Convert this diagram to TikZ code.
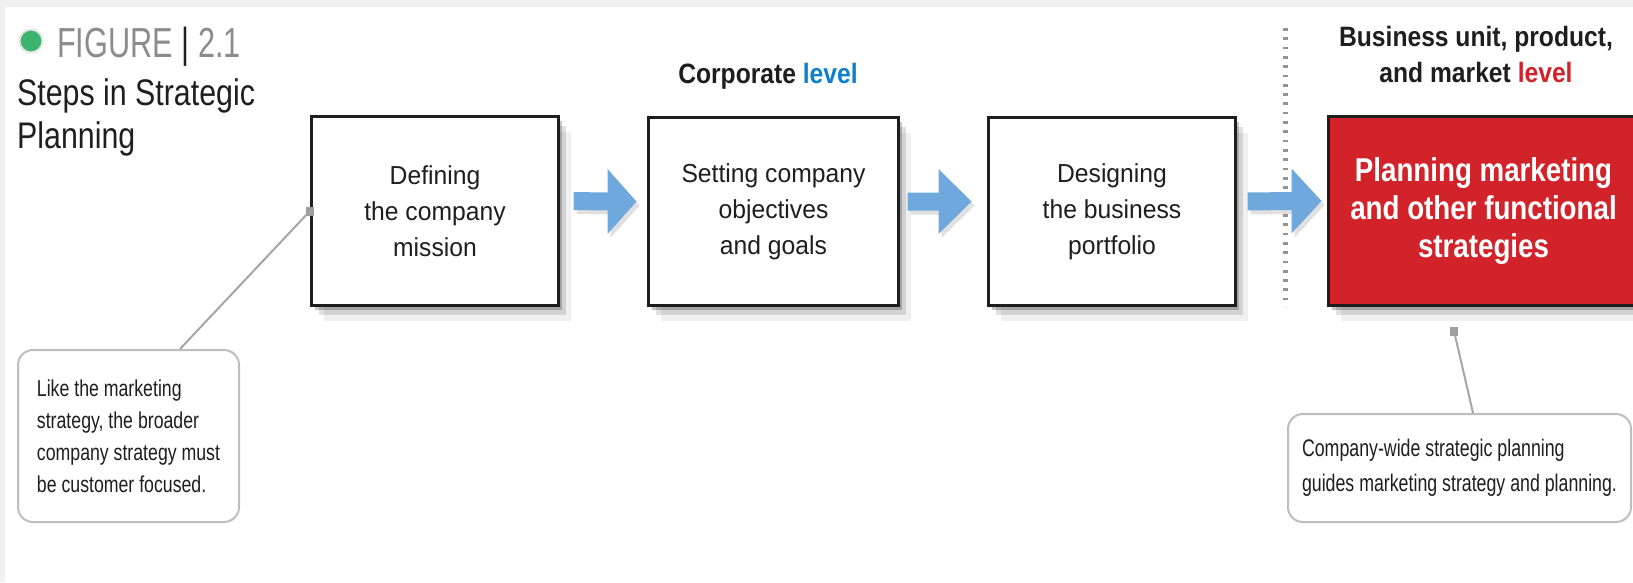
\documentclass[tikz,border=0pt]{standalone}
\usepackage{fontspec}
\setmainfont{Liberation Sans}
\newfontfamily\boxf[FakeStretch=0.95]{Liberation Sans}
\newfontfamily\headf[FakeStretch=0.88]{Liberation Sans}
\newfontfamily\redf[FakeStretch=0.84]{Liberation Sans}
\newfontfamily\notef[FakeStretch=0.77]{Liberation Sans}
\newfontfamily\notebf[FakeStretch=0.74]{Liberation Sans}
\newfontfamily\figf[FakeStretch=0.73]{Liberation Sans}
\newfontfamily\titf[FakeStretch=0.82]{Liberation Sans}
\usetikzlibrary{calc,shadows}
\definecolor{arrowblue}{RGB}{111,168,220}
\definecolor{stratred}{RGB}{210,35,42}
\definecolor{levelblue}{RGB}{12,128,204}
\definecolor{dotgreen}{RGB}{60,180,110}
\definecolor{figgray}{RGB}{140,140,140}
\definecolor{framegray}{RGB}{240,240,240}
\definecolor{callgray}{RGB}{190,190,190}
\definecolor{ink}{RGB}{30,30,30}
\tikzset{
  boxshadow/.style={
    drop shadow={shadow xshift=3pt, shadow yshift=-4pt, fill=black, opacity=.22},
    drop shadow={shadow xshift=7pt, shadow yshift=-9pt, fill=black, opacity=.12},
    drop shadow={shadow xshift=12pt, shadow yshift=-15pt, fill=black, opacity=.06}},
  stepbox/.style={draw=ink, line width=3pt, fill=white, align=center, text=ink,
    font=\boxf\fontsize{26}{36}\selectfont, inner sep=0pt, boxshadow},
  redbox/.style={stepbox, fill=stratred, text=white,
    font=\redf\bfseries\fontsize{33}{38}\selectfont},
  calloutbox/.style={draw=callgray, line width=2pt, rounded corners=15pt, fill=white,
    align=left, text=ink, inner sep=0pt},
  headtext/.style={font=\headf\bfseries\fontsize{28}{36}\selectfont, text=ink, align=center, inner sep=0pt},
  figtext/.style={font=\figf\fontsize{42}{48}\selectfont, text=figgray, inner sep=0pt},
  titletext/.style={font=\titf\fontsize{37}{43}\selectfont, text=ink, align=left, inner sep=0pt},
  leader/.style={draw=gray!70, line width=2pt},
  marker/.style={fill=gray!75, minimum width=8pt, minimum height=9pt, inner sep=0pt},
  sepline/.style={draw=gray!85, line width=5pt, dash pattern=on 2.7pt off 6.6pt},
  arrowshade/.style={fill=black, opacity=.12, transform canvas={shift={(3pt,-4pt)}}}
}
\newcommand\blockarrow[3]{%
  \fill[arrowshade] ($(#1)+(0,-9)$) -- ($(#2)+(-#3,-9)$) -- ($(#2)+(-#3,-32.5)$) -- (#2) -- ($(#2)+(-#3,32.5)$) -- ($(#2)+(-#3,9)$) -- ($(#1)+(0,9)$) -- cycle;
  \fill[arrowblue] ($(#1)+(0,-9)$) -- ($(#2)+(-#3,-9)$) -- ($(#2)+(-#3,-32.5)$) -- (#2) -- ($(#2)+(-#3,32.5)$) -- ($(#2)+(-#3,9)$) -- ($(#1)+(0,9)$) -- cycle;}
\begin{document}
\begin{tikzpicture}[x=1pt,y=-1pt]
\useasboundingbox (0,0) rectangle (1633,582);
\fill[framegray] (0,0) rectangle (1633,582);
\fill[white] (5,7) rectangle (1633,582);

% title block
\node[circle, fill=dotgreen, draw=black!10, line width=2pt, minimum size=23pt, inner sep=0pt] (dot) at (31,41) {};
\node[figtext, anchor=base west] (fig) at (57,57) {FIGURE \textcolor{ink}{|} 2.1};
\node[titletext, anchor=west] (title) at (17,117) {Steps in Strategic\\Planning};

% level headings
\node[headtext, anchor=base] (corp) at (768,83) {Corporate \textcolor{levelblue}{level}};
\node[headtext] (bu) at (1476,54) {Business unit, product,\\and market \textcolor{stratred}{level}};

% separator
\coordinate (sepTop) at (1285,28);
\coordinate (sepBot) at (1285,307);
\draw[sepline] (sepTop) -- (sepBot);

% steps
\node[stepbox, minimum width=247pt, minimum height=189pt] (b1) at (435,211) {Defining\\the company\\mission};
\node[stepbox, minimum width=250pt, minimum height=188pt] (b2) at (773.5,211.5) {Setting company\\objectives\\and goals};
\node[stepbox, minimum width=247pt, minimum height=188pt] (b3) at (1112,211.5) {Designing\\the business\\portfolio};
\node[redbox, minimum width=310pt, minimum height=189pt] (b4) at (1483.5,211) {Planning marketing\\and other functional\\strategies};

% block arrows
\coordinate (a1s) at ($(b1.east)+(13.5,-10)$);
\coordinate (a1t) at ($(b2.west)+(-10.5,-10)$);
\coordinate (a2s) at ($(b2.east)+(7.5,-10)$);
\coordinate (a2t) at ($(b3.west)+(-15.5,-10)$);
\coordinate (a3s) at ($(b3.east)+(10.5,-10)$);
\coordinate (a3t) at ($(b4.west)+(-5.5,-10)$);
\blockarrow{a1s}{a1t}{29}
\blockarrow{a2s}{a2t}{33}
\blockarrow{a3s}{a3t}{30}

% callouts
\node[calloutbox, minimum width=221pt, minimum height=172pt,
  font=\notef\fontsize{23}{32}\selectfont] (c1) at (128.5,436)
  {Like the marketing\\strategy, the broader\\company strategy must\\be customer focused.};
\node[calloutbox, minimum width=343pt, minimum height=108pt,
  font=\notebf\fontsize{24}{35}\selectfont] (c2) at (1459.5,468)
  {Company-wide strategic planning\\guides marketing strategy and planning.};

% leaders
\coordinate (m1) at (b1.west);
\coordinate (m2) at ($(b4.south west)+(127,24)$);
\coordinate (c1top) at ($(c1.north west)+(163,0)$);
\coordinate (c2top) at ($(c2.north west)+(186,0)$);
\draw[leader] (m1) -- (c1top);
\draw[leader] (m2) -- (c2top);
\node[marker] (mk1) at (m1) {};
\node[marker] (mk2) at (m2) {};
\end{tikzpicture}
\end{document}
